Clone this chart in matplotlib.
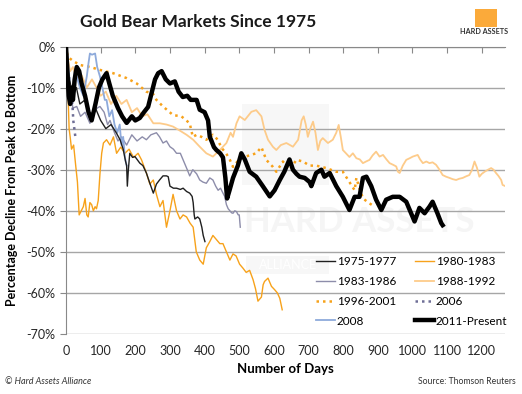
import matplotlib.pyplot as plt
from matplotlib.patches import Rectangle

plt.rcParams['font.family'] = ['Lato', 'DejaVu Sans']

# ---- data (trading days from peak, % decline) ----
days_1975 = [0, 5, 10, 20, 30, 40, 55, 70, 85, 100, 115, 130, 145, 156, 165, 172, 175, 177, 180, 184,
             192, 199, 213, 222, 232, 242, 252, 257, 261, 270, 280, 290, 295, 300, 310, 319, 330, 338, 348, 357,
             364, 367, 370, 372, 380, 386, 392, 396, 401]
pct_1975 = [0, -5, -8, -12, -10, -14, -13, -17, -15, -18, -20, -19, -21, -22.7, -25, -28, -29, -34, -30, -26,
            -27, -26.8, -28.4, -29, -30.8, -33.3, -35.7, -34.5, -33.5, -32.5, -31.5, -31.5, -31.7, -34, -34.5, -34.5, -34.8, -34.5, -35.3, -35.7,
            -36.5, -38, -41, -42, -41.5, -42, -44, -46, -47.5]

days_1980 = [0, 3, 6, 9, 12, 16, 22, 28, 33, 38, 44, 50, 55, 60, 64, 69, 74, 79, 84, 88,
             93, 98, 103, 108, 117, 127, 137, 146, 158, 170, 182, 195, 208, 218, 232, 242, 252, 261, 271, 280,
             290, 300, 309, 319, 329, 338, 348, 358, 367, 376, 386, 396, 405, 415, 424, 434, 444, 453, 463, 473,
             482, 491, 501, 511, 520, 530, 540, 547, 554, 559, 564, 569, 573, 583, 593, 602, 610, 617, 624]
pct_1980 = [0, -5, -12, -20, -22, -25, -24, -29, -33, -41, -40, -39, -37, -41, -41.5, -38, -38.5, -40, -39, -39.5,
            -37.5, -31, -26, -23.5, -22.7, -24, -22, -26, -24.5, -26, -25, -27, -26, -27.6, -30.8, -33.5, -32.5, -36, -39, -37.5,
            -44, -40, -36, -40, -42, -41, -41.5, -43, -44, -50, -52, -53, -49, -47.5, -46, -47, -48, -48, -50, -52,
            -50.5, -51, -53, -54, -55, -54.5, -56.8, -59, -62, -61.5, -61, -58, -57.2, -56.4, -58.4, -59.2, -60, -61.3, -64.1]

days_1983 = [0, 4, 8, 14, 20, 31, 42, 55, 69, 80, 90, 98, 110, 120, 127, 140, 150, 160, 175, 190,
             205, 220, 232, 245, 261, 270, 280, 290, 300, 310, 319, 330, 340, 350, 357, 366, 377, 386, 395, 405,
             415, 424, 432, 439, 446, 453, 458, 463, 468, 473, 478, 482, 487, 492, 497, 500, 503]
pct_1983 = [0, -6, -10, -12, -15, -14.6, -17, -16, -18.7, -16, -15, -14.6, -16, -19, -18, -21, -23, -22, -24, -21.5,
            -23, -22, -22.7, -21.5, -21, -22, -23.5, -23, -24.4, -25, -26, -26, -28, -30, -31.5, -30, -31, -32.5, -33, -33.3,
            -32, -32.5, -34, -35, -34.5, -35.7, -36.5, -38.5, -39.5, -40, -40.5, -40.6, -40, -40.2, -41, -41, -44]

days_1988 = [0, 5, 12, 20, 30, 45, 60, 75, 88, 100, 115, 130, 145, 160, 175, 190, 205, 220, 235, 252,
             271, 290, 309, 329, 348, 367, 386, 405, 424, 444, 463, 475, 482, 492, 501, 516, 535, 549, 564, 573,
             583, 597, 607, 620, 636, 655, 670, 680, 686, 692, 698, 705, 713, 720, 727, 734, 741, 756, 770, 780,
             787, 793, 799, 808, 818, 828, 838, 848, 857, 866, 876, 885, 895, 905, 915, 925, 934, 944, 953, 958,
             963, 972, 982, 992, 1001, 1015, 1022, 1030, 1040, 1049, 1058, 1068, 1078, 1087, 1097, 1107, 1116, 1126, 1135, 1145,
             1155, 1164, 1172, 1179, 1186, 1193, 1200, 1208, 1218, 1227, 1234, 1241, 1248, 1256, 1260, 1268]
pct_1988 = [0, -3, -6, -5, -8, -7, -10, -8, -10, -12, -11, -14, -12, -14, -13, -16, -15, -17, -16.5, -18.7,
            -18.7, -19, -19.5, -20.5, -21.5, -22.7, -24.4, -26, -26.8, -25.2, -23.5, -21, -22, -18.7, -17, -17.9, -15.9, -15.5, -17, -20.3,
            -22.7, -24.4, -25.2, -24, -23.5, -24.4, -22.7, -18, -17, -19, -22, -20, -18.3, -21, -25.2, -23, -22.3, -23.5, -22.7, -21,
            -19.1, -22, -25.2, -26, -26.9, -26, -27.2, -27.5, -28.4, -28, -27.6, -26.5, -25.6, -26.8, -26.4, -27.5, -28.4, -28.8, -29.2, -30.5,
            -30.8, -29, -27.6, -27.2, -26.8, -26.4, -27.5, -28.4, -28, -28.4, -28.2, -28.8, -30, -31.3, -31.7, -32, -32.3, -32.5, -32.2, -32,
            -31.6, -31.3, -30, -28, -29.5, -31.7, -31, -30.5, -30, -29.6, -30, -30.8, -31.5, -32.5, -33.7, -34]

days_1996 = [0, 5, 20, 40, 70, 98, 136, 175, 204, 232, 251, 261, 280, 309, 333, 357, 366, 377, 391, 405,
             424, 438, 449, 462, 473, 482, 495, 510, 530, 549, 564, 578, 597, 607, 626, 646, 665, 684, 703, 722,
             751, 780, 799, 818, 833, 838, 845, 857, 876, 891]
pct_1996 = [0, -2.5, -3.5, -4.5, -5, -5.7, -6.5, -7.7, -9, -11, -11.5, -13, -14.6, -16.7, -17, -18.7, -22, -21.5, -22, -22.7,
            -21.5, -22.7, -24.7, -26, -27.6, -29.3, -28, -27, -26.5, -26, -24.5, -27.6, -29.3, -30.5, -28, -30, -27.6, -28, -29, -29,
            -29.6, -30.5, -30.5, -33, -35, -32, -34, -37, -38.2, -39]

days_2006 = [0, 3, 6, 9, 12, 15, 18, 21, 24, 27]
pct_2006 = [0, -4, -8, -7, -12, -14, -13, -18, -20, -22]

days_2008 = [0, 5, 10, 15, 20, 25, 31, 40, 50, 60, 65, 69, 75, 84, 90, 98, 105, 112, 117, 125,
             133, 140, 148, 155, 160, 165, 170, 175]
pct_2008 = [0, -3, -8, -12, -10, -6, -7.3, -10, -12, -7.3, -4, -1.7, -2, -1.7, -5, -7.3, -10, -13, -13, -17,
            -15.5, -19, -21, -19, -24, -22, -27, -29]

days_2011 = [0, 2, 5, 8, 12, 16, 20, 25, 31, 38, 45, 55, 65, 74, 85, 95, 105, 117, 125, 135,
             150, 162, 175, 190, 200, 213, 225, 237, 248, 257, 266, 276, 288, 300, 314, 325, 337, 350, 360, 377,
             386, 400, 410, 415, 420, 427, 434, 445, 453, 460, 465, 472, 482, 496, 506, 516, 530, 549, 568, 588,
             602, 617, 630, 645, 655, 665, 674, 689, 703, 708, 722, 737, 746, 761, 780, 799, 818, 833, 847, 857,
             867, 881, 895, 910, 924, 943, 963, 982, 996, 1006, 1020, 1035, 1049, 1058, 1072, 1083, 1087]
pct_2011 = [0, -3, -8, -12, -14, -10, -13, -8, -5, -6, -9, -12, -16, -18, -14, -10, -8, -6.5, -9, -12,
            -15, -17, -18.6, -17, -18, -17.4, -16, -14.7, -11, -8, -6.5, -6, -8, -9, -8.5, -11, -12.3, -12, -13, -13,
            -15.4, -16, -18, -22, -23, -24.5, -25.2, -26, -27, -32, -37, -35, -32, -29, -26, -27.5, -30.5, -31.7, -34, -36.5,
            -35, -32.5, -30.5, -27.5, -30, -31, -31.7, -32, -33, -34, -30.8, -30, -31.7, -30.8, -34, -36.6, -39.8, -36.6, -36.6, -32,
            -31.7, -34, -37.3, -39.8, -37.3, -36.6, -36.6, -37.8, -40.6, -42.6, -39.3, -40.6, -39, -37.8, -40.6, -43, -43.5]

y_ticks = [0, -10, -20, -30, -40, -50, -60, -70]
x_ticks = list(range(0, 1300, 100))

fig = plt.figure(figsize=(5.22, 3.94), dpi=100)
ax = fig.add_axes([66 / 522, 1 - 334 / 394, (505 - 66) / 522, (334 - 46.5) / 394])

# faint watermark behind the lines
ax.add_patch(Rectangle((0.40, 0.52), 0.20, 0.28, transform=ax.transAxes, color='#f7f7f7', zorder=0, lw=0))
ax.text(0.405, 0.39, 'HARD ASSETS', transform=ax.transAxes, fontsize=25, fontweight='bold',
        color='#f5f5f5', zorder=0, va='center', ha='left')
ax.add_patch(Rectangle((0.41, 0.21), 0.19, 0.06, transform=ax.transAxes, color='#f7f7f7', zorder=0, lw=0))
ax.text(0.505, 0.24, 'ALLIANCE', transform=ax.transAxes, fontsize=9, color='white',
        zorder=0, va='center', ha='center')

l75, = ax.plot(days_1975, pct_1975, color='#1f1f1f', lw=1.0, label='1975-1977', zorder=5)
l80, = ax.plot(days_1980, pct_1980, color='#F7A21B', lw=1.0, label='1980-1983', zorder=3)
l83, = ax.plot(days_1983, pct_1983, color='#8D8DAA', lw=1.0, label='1983-1986', zorder=4)
l88, = ax.plot(days_1988, pct_1988, color='#FDCB8A', lw=1.3, label='1988-1992', zorder=2)
l96, = ax.plot(days_1996, pct_1996, color='#F7A21B', lw=1.8, ls=(0, (1, 1.6)), label='1996-2001', zorder=4)
l06, = ax.plot(days_2006, pct_2006, color='#6E6E96', lw=1.8, ls=(0, (1, 1.6)), label='2006', zorder=4)
l08, = ax.plot(days_2008, pct_2008, color='#8EAADB', lw=1.3, label='2008', zorder=4)
l11, = ax.plot(days_2011, pct_2011, color='black', lw=3.2, label='2011-Present', zorder=6)

ax.set_xlim(0, 1267)
ax.set_ylim(-70, 0)
ax.set_yticks(y_ticks)
ax.set_yticklabels([f'{v}%' for v in y_ticks])
ax.set_xticks(x_ticks)
ax.grid(axis='y', color='#a6a6a6', lw=1)
ax.set_axisbelow(True)

for s in ['right', 'bottom']:
    ax.spines[s].set_visible(False)
ax.spines['left'].set_color('#898989')
ax.spines['top'].set_color('#898989')
ax.tick_params(axis='x', top=True, bottom=False, labeltop=False, labelbottom=True,
               direction='in', length=4, color='#898989', labelsize=9, pad=8, labelcolor='#262626')
ax.tick_params(axis='y', length=4, color='#898989', labelsize=9, labelcolor='#262626')

ax.set_xlabel('Number of Days', fontsize=9.5, fontweight='bold', labelpad=4)
ax.set_ylabel('Percentage Decline From Peak to Bottom', fontsize=9, fontweight='bold', labelpad=6)

handles = [l75, l83, l96, l08, l80, l88, l06, l11]
fig.legend(handles=handles, loc='upper left', bbox_to_anchor=(316 / 522, 1 - 256 / 394), ncol=2,
           frameon=False, fontsize=8.5, handlelength=1.6, handletextpad=0.15, columnspacing=1.6,
           labelspacing=0.75, borderpad=0, borderaxespad=0)

fig.text(80 / 522, 1 - 22 / 394, 'Gold Bear Markets Since 1975', fontsize=12.5, fontweight='bold',
         va='center', ha='left', color='#1a1a1a')

# logo
fig.patches.append(Rectangle((475 / 522, 1 - 27 / 394), 22 / 522, 18 / 394, transform=fig.transFigure,
                             color='#FBAA3A', lw=0))
fig.text(484 / 522, 1 - 32 / 394, 'HARD ASSETS', fontsize=5.2, fontweight='bold', ha='center', va='center',
         color='#333333')

fig.text(5 / 522, 1 - 381 / 394, '© Hard Assets Alliance', fontsize=6.5, style='italic', va='center', color='#333333')
fig.text(516 / 522, 1 - 381 / 394, 'Source: Thomson Reuters', fontsize=6.2, ha='right', va='center', color='#333333')

fig.savefig('out.png', dpi=100)
